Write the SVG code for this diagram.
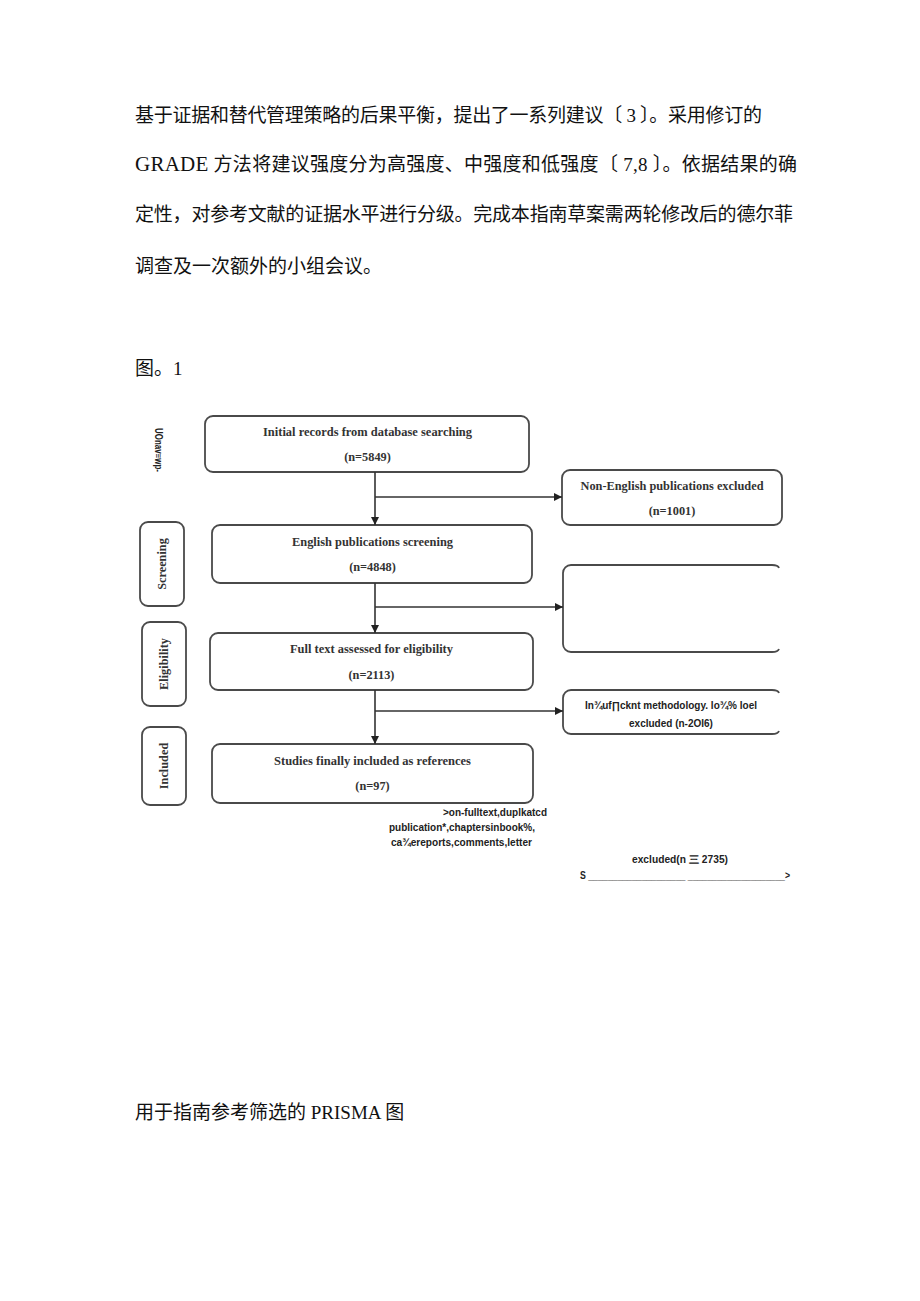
<svg xmlns="http://www.w3.org/2000/svg" width="920" height="1301" viewBox="0 0 920 1301">
<defs>
<style>
.para{font-family:"Liberation Serif","Noto Sans CJK SC",serif;font-size:19px;fill:#111}
.box{fill:#fff;stroke:#4a4a4a;stroke-width:1.8}
.bt{font-family:"Liberation Serif",serif;font-weight:bold;font-size:12.3px;fill:#333;text-anchor:middle}
.st{font-family:"Liberation Sans","DejaVu Sans",sans-serif;font-weight:bold;font-size:10px;fill:#222}
.ln{stroke:#333;stroke-width:1.6;fill:none}
</style>
<marker id="ah" viewBox="0 0 10 10" refX="10" refY="5" markerWidth="8" markerHeight="8" markerUnits="userSpaceOnUse" orient="auto">
<path d="M0,0 L10,5 L0,10 z" fill="#222"/>
</marker>
</defs>
<rect width="920" height="1301" fill="#fff"/>

<g id="paragraph">
<text class="para" x="135" y="122" textLength="627" lengthAdjust="spacing">基于证据和替代管理策略的后果平衡，提出了一系列建议〔 3 〕。采用修订的</text>
<text class="para" x="135" y="171" textLength="662" lengthAdjust="spacing"><tspan font-size="21">GRADE</tspan> 方法将建议强度分为高强度、中强度和低强度〔 7,8 〕。依据结果的确</text>
<text class="para" x="135" y="221" textLength="658" lengthAdjust="spacing">定性，对参考文献的证据水平进行分级。完成本指南草案需两轮修改后的德尔菲</text>
<text class="para" x="135" y="273">调查及一次额外的小组会议。</text>
<text class="para" x="135" y="375">图。1</text>
</g>

<g id="stage-identification">
<text class="st" font-weight="normal" font-size="9" transform="translate(154.5,450) rotate(90)" text-anchor="middle" textLength="44" lengthAdjust="spacingAndGlyphs">UOnav≡wp-</text>
</g>
<g id="stage-screening">
<rect class="box" x="140" y="522" width="44" height="84" rx="8"/>
<text class="bt" transform="translate(162,564) rotate(-90)" y="4">Screening</text>
</g>
<g id="stage-eligibility">
<rect class="box" x="142" y="622" width="44" height="84" rx="8"/>
<text class="bt" transform="translate(164,664) rotate(-90)" y="4">Eligibility</text>
</g>
<g id="stage-included">
<rect class="box" x="142" y="727" width="44" height="78" rx="8"/>
<text class="bt" transform="translate(164,766) rotate(-90)" y="4">Included</text>
</g>

<g id="node-initial">
<rect class="box" x="205" y="416" width="324" height="56" rx="8"/>
<text class="bt" x="367.5" y="436" textLength="209" lengthAdjust="spacingAndGlyphs">Initial records from database searching</text>
<text class="bt" x="367.5" y="461">(n=5849)</text>
</g>
<g id="node-english">
<rect class="box" x="212" y="525" width="320" height="58" rx="8"/>
<text class="bt" x="372.5" y="546" textLength="161" lengthAdjust="spacingAndGlyphs">English publications screening</text>
<text class="bt" x="372.5" y="571">(n=4848)</text>
</g>
<g id="node-fulltext">
<rect class="box" x="210" y="633" width="323" height="57" rx="8"/>
<text class="bt" x="371.5" y="653" textLength="163" lengthAdjust="spacingAndGlyphs">Full text assessed for eligibility</text>
<text class="bt" x="371.5" y="679">(n=2113)</text>
</g>
<g id="node-included">
<rect class="box" x="212" y="744" width="321" height="59" rx="8"/>
<text class="bt" x="372.5" y="765" textLength="197" lengthAdjust="spacingAndGlyphs">Studies finally included as references</text>
<text class="bt" x="372.5" y="790">(n=97)</text>
</g>
<g id="node-nonenglish">
<rect class="box" x="562" y="470" width="220" height="55" rx="8"/>
<text class="bt" x="672" y="490" textLength="183" lengthAdjust="spacingAndGlyphs">Non-English publications excluded</text>
<text class="bt" x="672" y="515">(n=1001)</text>
</g>
<g id="node-excluded-nonfull">
<path class="box" d="M779,568 Q778,565 772,565 H571 A8,8 0 0 0 563,573 V644 A8,8 0 0 0 571,652 H772 Q778,652 779,649"/>
</g>
<g id="node-methodology">
<path class="box" d="M779,693 Q778,690 772,690 H571 A8,8 0 0 0 563,698 V726 A8,8 0 0 0 571,734 H772 Q778,734 779,731"/>
<text class="st" x="671" y="709" text-anchor="middle" textLength="172" lengthAdjust="spacingAndGlyphs">In¾uf∏cknt methodology. lo¾% loel</text>
<text class="st" x="671" y="727" text-anchor="middle">excluded (n-2OI6)</text>
</g>

<g id="connectors">
<line class="ln" x1="375" y1="472" x2="375" y2="525" marker-end="url(#ah)"/>
<line class="ln" x1="375" y1="497" x2="562" y2="497" marker-end="url(#ah)"/>
<line class="ln" x1="375" y1="583" x2="375" y2="633" marker-end="url(#ah)"/>
<line class="ln" x1="375" y1="607" x2="563" y2="607" marker-end="url(#ah)"/>
<line class="ln" x1="375" y1="690" x2="375" y2="744" marker-end="url(#ah)"/>
<line class="ln" x1="375" y1="711" x2="563" y2="711" marker-end="url(#ah)"/>
</g>

<g id="stray-text">
<text class="st" x="443" y="816" textLength="104" lengthAdjust="spacingAndGlyphs">&gt;on-fulltext,duplkatcd</text>
<text class="st" x="389" y="831" textLength="146" lengthAdjust="spacingAndGlyphs">publication*,chaptersinbook%,</text>
<text class="st" x="391" y="846" textLength="141" lengthAdjust="spacingAndGlyphs">ca¾ereports,comments,letter</text>
<text class="st" x="632" y="863" textLength="96" lengthAdjust="spacingAndGlyphs">excluded(n 三 2735)</text>
<text class="st" x="580" y="879" textLength="210" lengthAdjust="spacingAndGlyphs">S ____________________ ____________________&gt;</text>
</g>

<g id="caption">
<text class="para" x="135" y="1119">用于指南参考筛选的 PRISMA 图</text>
</g>
</svg>
